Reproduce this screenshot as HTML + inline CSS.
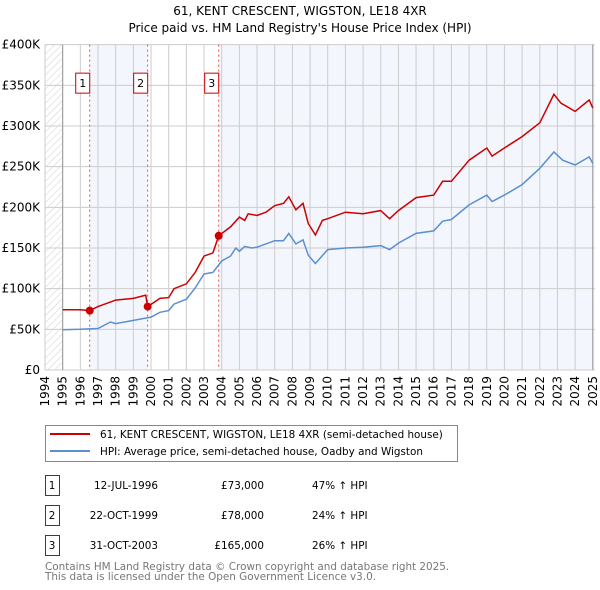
<!DOCTYPE html>
<html><head><meta charset="utf-8"><style>
body{margin:0;background:#fff;}
svg{display:block;font-family:"DejaVu Sans","Liberation Sans",sans-serif;}
</style></head><body>
<svg id="c" width="600" height="590" viewBox="0 0 600 590" xmlns="http://www.w3.org/2000/svg">
<defs><pattern id="hatch" width="5" height="5" patternUnits="userSpaceOnUse" patternTransform="rotate(45)"><line x1="0" y1="0" x2="0" y2="5" stroke="#d0d0d0" stroke-width="1"/></pattern></defs>
<text x="300" y="15" text-anchor="middle" font-size="12">61, KENT CRESCENT, WIGSTON, LE18 4XR</text>
<text x="300" y="32" text-anchor="middle" font-size="12">Price paid vs. HM Land Registry's House Price Index (HPI)</text>
<g id="plot"></g>
<g>
<rect x="45.5" y="425.5" width="412" height="36" fill="#fff" stroke="#888"/>
<line x1="50" y1="434" x2="90" y2="434" stroke="#cc0000" stroke-width="2"/>
<text x="100" y="438" font-size="10.4">61, KENT CRESCENT, WIGSTON, LE18 4XR (semi-detached house)</text>
<line x1="50" y1="451" x2="90" y2="451" stroke="#5b8fd0" stroke-width="2"/>
<text x="100" y="455" font-size="10.4">HPI: Average price, semi-detached house, Oadby and Wigston</text>
</g>
<g id="table" font-size="10.4"></g>
<text x="45" y="570" font-size="10.4" fill="#777">Contains HM Land Registry data © Crown copyright and database right 2025.</text>
<text x="45" y="580" font-size="10.4" fill="#777">This data is licensed under the Open Government Licence v3.0.</text>
</svg>
<script>
const hpiYears=[1995,1996,1997,1997.7,1998,1999,2000,2000.5,2001,2001.3,2002,2002.5,2003,2003.5,2004,2004.5,2004.8,2005,2005.3,2005.7,2006,2007,2007.5,2007.8,2008.2,2008.6,2008.9,2009.3,2010,2011,2012,2013,2013.5,2014,2015,2016,2016.5,2017,2018,2019,2019.3,2020,2021,2022,2022.8,2023.3,2024,2024.8,2025];
const hpiValues=[49.5,50,51,59,57,61,65,71,73,81,87,101,118,120,134,140,150,146,152,150,151,159,159,168,155,160,141,131,148,150,151,153,148,156,168,171,183,185,203,215,207,215,228,248,268,258,252,262,254];
const priceYears=[1995,1996,1996.53,1997,1998,1999,1999.7,1999.81,2000.5,2001,2001.3,2002,2002.5,2003,2003.5,2003.83,2004.5,2005,2005.3,2005.5,2006,2006.5,2007,2007.5,2007.8,2008.2,2008.6,2008.9,2009.3,2009.7,2010,2011,2012,2013,2013.5,2014,2015,2016,2016.5,2017,2018,2019,2019.3,2020,2021,2022,2022.8,2023.2,2024,2024.8,2025];
const priceValues=[74,74,73,78,86,88,92,78,88,89,100,106,120,140,144,165,176,188,184,192,190,194,202,205,213,197,205,180,166,184,186,194,192,196,186,196,212,215,232,232,258,273,263,273,287,304,339,328,318,332,322];
const saleYears=[1996.53,1999.81,2003.83];
const saleValues=[73,78,165];
const saleLabels=["1","2","3"];
const saleDates=["12-JUL-1996","22-OCT-1999","31-OCT-2003"];
const salePrices=["£73,000","£78,000","£165,000"];
const saleHpi=["47% ↑ HPI","24% ↑ HPI","26% ↑ HPI"];
const yTicks=[0,50,100,150,200,250,300,350,400];
const yTickLabels=["£0","£50K","£100K","£150K","£200K","£250K","£300K","£350K","£400K"];
const xTicks=[1994,1995,1996,1997,1998,1999,2000,2001,2002,2003,2004,2005,2006,2007,2008,2009,2010,2011,2012,2013,2014,2015,2016,2017,2018,2019,2020,2021,2022,2023,2024,2025];

const NS="http://www.w3.org/2000/svg";
const X=y=>45+(y-1994)*17.67;
const Y=v=>370-v*0.8133;
const g=document.getElementById('plot');
function mk(t,a,p){const e=document.createElementNS(NS,t);for(const k in a)e.setAttribute(k,a[k]);(p||g).appendChild(e);return e;}
const L=X(1994),R=X(2025)+2,T=Y(400),B=Y(0);
let r;
r=mk('rect',{x:X(1994),y:T,width:X(1995)-X(1994),height:B-T,fill:'url(#hatch)'});


r=mk('rect',{x:X(saleYears[0]),y:T,width:X(saleYears[1])-X(saleYears[0]),height:B-T,fill:'#f3f6fd'});


r=mk('rect',{x:X(saleYears[2]),y:T,width:R-X(saleYears[2]),height:B-T,fill:'#f3f6fd'});


xTicks.forEach(t=>{const l=mk('line',{x1:X(t),x2:X(t),y1:T,y2:B,stroke:'#ccc','stroke-width':1});


const tx=mk('text',{x:0,y:0,'font-size':12,'text-anchor':'end',transform:`translate(${X(t)+4},${B+6}) rotate(-90)`});tx.textContent=t;

});
yTicks.forEach((t,i)=>{const l=mk('line',{x1:L,x2:R,y1:Y(t),y2:Y(t),stroke:'#ccc','stroke-width':1});


const tx=mk('text',{x:L-5,y:Y(t)+4,'font-size':12,'text-anchor':'end'});tx.textContent=yTickLabels[i];

});
r=mk('line',{x1:X(1995),x2:X(1995),y1:T,y2:B,stroke:'#999'});


r=mk('line',{x1:X(2025),x2:X(2025),y1:T,y2:B,stroke:'#999'});


saleYears.forEach((s,i)=>{const l=mk('line',{x1:X(s),x2:X(s),y1:T,y2:B,stroke:'#e05050','stroke-dasharray':'2,3'});


const bx=mk('rect',{x:X(s)-14,y:Y(365),width:14,height:20,fill:'#fff',stroke:'#cc0000'});


const tx=mk('text',{x:X(s)-7,y:Y(365)+14,'font-size':11,'text-anchor':'middle'});tx.textContent=saleLabels[i];

});
const pts=(xs,vs)=>xs.map((x,i)=>X(x).toFixed(1)+','+Y(vs[i]).toFixed(1)).join(' ');
r=mk('polyline',{points:pts(hpiYears,hpiValues),fill:'none',stroke:'#5b8fd0','stroke-width':1.5});


r=mk('polyline',{points:pts(priceYears,priceValues),fill:'none',stroke:'#cc0000','stroke-width':1.5});


saleYears.forEach((s,i)=>{const c=mk('circle',{cx:X(s),cy:Y(saleValues[i]),r:4,fill:'#cc0000'});

});
const tb=document.getElementById('table');
saleLabels.forEach((lab,i)=>{const y0=475+i*30;
const b=mk('rect',{x:45.5,y:y0+0.5,width:14,height:20,fill:'#fff',stroke:'#cc0000'},tb);


const cells=[[52,'middle',lab],[158,'end',saleDates[i]],[264,'end',salePrices[i]],[312,'start',saleHpi[i]]];
cells.forEach((c,j)=>{const t=mk('text',{x:c[0],y:y0+14,'text-anchor':c[1]},tb);t.textContent=c[2];

});});
</script>
</body></html>
